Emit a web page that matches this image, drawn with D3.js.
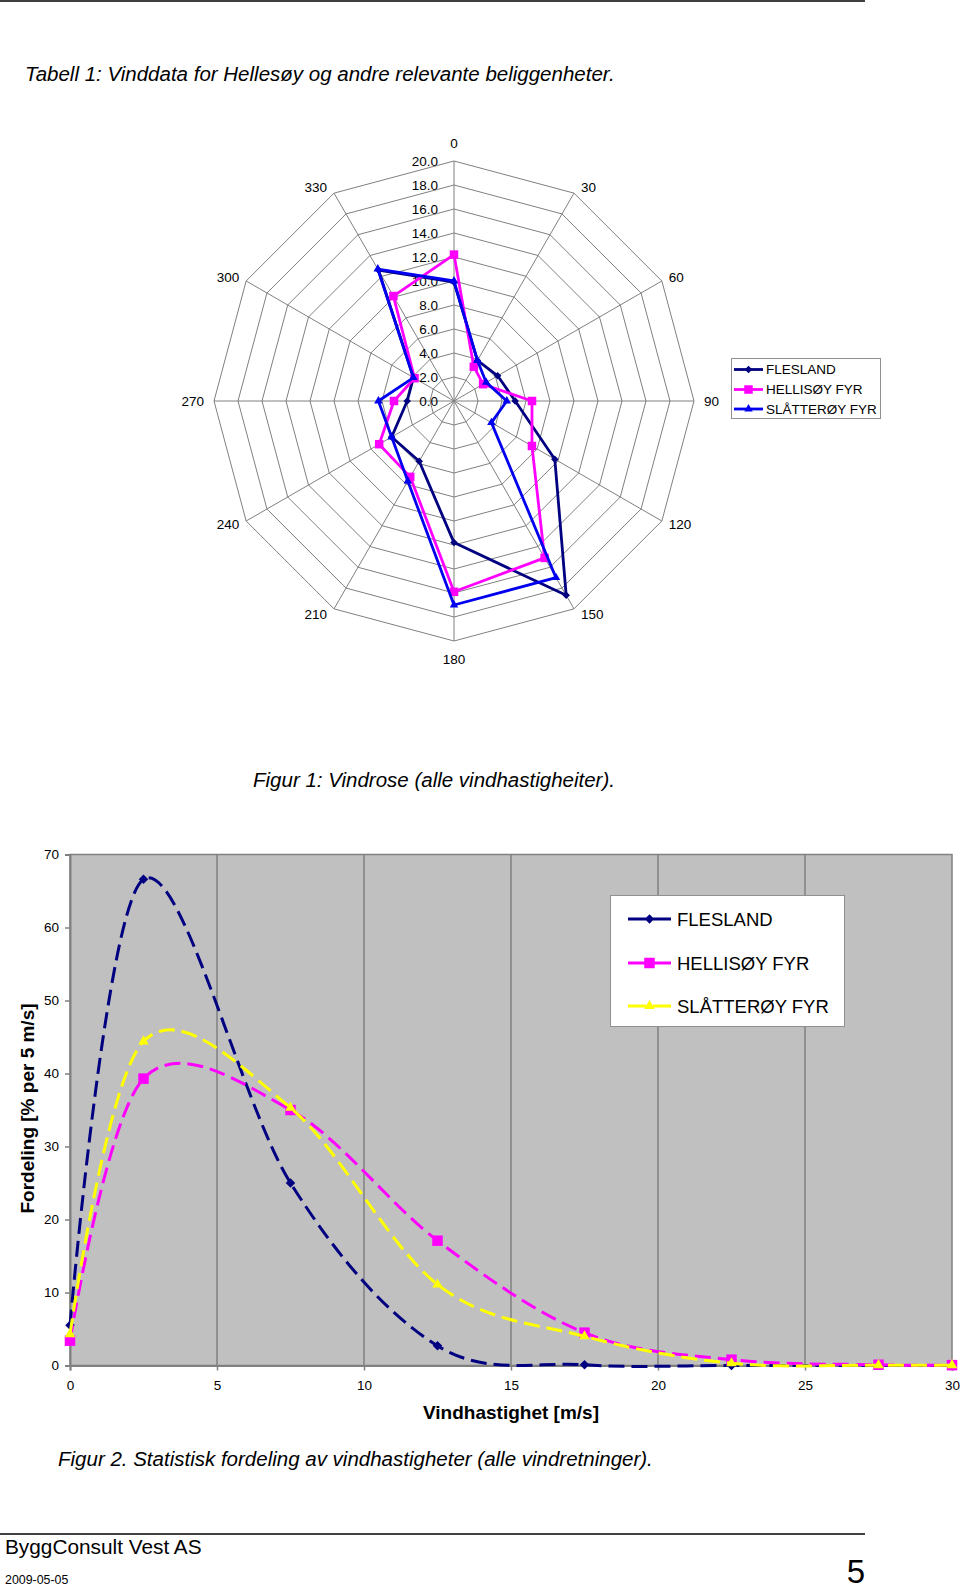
<!DOCTYPE html>
<html><head><meta charset="utf-8">
<script src="https://cdn.jsdelivr.net/npm/d3@7"></script>
<style>
body{margin:0;background:#fff}
svg{display:block}
text{font-family:'Liberation Sans',Arial,Helvetica,sans-serif;fill:#000}
</style>
</head><body>
<svg id="page" width="960" height="1589"></svg>
<script>
// ---------- data ----------
const seriesNames = ["FLESLAND", "HELLISØY FYR", "SLÅTTERØY FYR"];
const directions = [0, 30, 60, 90, 120, 150, 180, 210, 240, 270, 300, 330];
const roseTicks = [0, 2, 4, 6, 8, 10, 12, 14, 16, 18, 20];
const fleslandRose  = [9.9, 3.9, 4.2, 5.1, 9.7, 18.7, 11.8, 5.8, 6.0, 3.9, 3.9, 12.6];
const hellisoyRose  = [12.2, 3.3, 2.8, 6.5, 7.5, 15.1, 15.9, 7.3, 7.2, 5.0, 3.8, 10.1];
const slatteroyRose = [10.0, 3.9, 3.1, 4.4, 3.6, 17.0, 17.0, 7.7, 6.0, 6.3, 3.9, 12.7];

const speeds = [0, 2.5, 7.5, 12.5, 17.5, 22.5, 27.5, 30];
const fleslandDist  = [5.5, 66.6, 25.0, 2.7, 0.1, 0.0, 0.0, 0.0];
const hellisoyDist  = [3.4, 39.3, 35.0, 17.1, 4.5, 0.8, 0.1, 0.05];
const slatteroyDist = [4.3, 44.4, 35.3, 11.1, 4.0, 0.3, 0.05, 0.05];
const speedTicks = [0, 5, 10, 15, 20, 25, 30];
const distTicks = [0, 10, 20, 30, 40, 50, 60, 70];

const roseColors = ["#000080", "#FF00FF", "#0000EE"];
const distColors = ["#000080", "#FF00FF", "#FFFF00"];
const markerTypes = ["diamond", "square", "triangle"];

// ---------- helpers ----------
const svg = d3.select("#page");
function marker(sel, type, w, color, x, y) {
  let p, rot = 0;
  if (type === "diamond") { p = d3.symbol(d3.symbolSquare, (w / Math.SQRT2) ** 2)(); rot = 45; }
  else if (type === "square") { p = d3.symbol(d3.symbolSquare, w * w)(); }
  else { p = d3.symbol(d3.symbolTriangle, Math.sqrt(3) / 4 * w * w)(); }
  sel.append("path").attr("d", p).attr("fill", color).attr("stroke", "none")
    .attr("transform", `translate(${x},${y}) rotate(${rot})`);
}

// ---------- page text ----------
svg.append("line").attr("x1", 0).attr("x2", 865).attr("y1", 1).attr("y2", 1)
  .attr("stroke", "#000").attr("stroke-width", 1.5);
svg.append("text").attr("x", 25).attr("y", 81).style("font-size", "20.5px").style("font-style", "italic")
  .text("Tabell 1: Vinddata for Hellesøy og andre relevante beliggenheter.");

// ---------- wind rose ----------
const cx = 454, cy = 401;
const r = d3.scaleLinear().domain([0, 20]).range([0, 240]);
const ang = d3.scaleLinear().domain([0, 360]).range([0, 2 * Math.PI]);
const rose = svg.append("g").attr("transform", `translate(${cx},${cy})`);

const ring = d3.lineRadial().angle(d => ang(d)).curve(d3.curveLinearClosed);
roseTicks.filter(t => t > 0).forEach(t => {
  rose.append("path").attr("d", ring.radius(r(t))(directions))
    .attr("fill", "none").attr("stroke", "#808080").attr("stroke-width", 1);
});
directions.forEach(d => {
  rose.append("line").attr("x1", 0).attr("y1", 0)
    .attr("x2", r(20) * Math.sin(ang(d))).attr("y2", -r(20) * Math.cos(ang(d)))
    .attr("stroke", "#808080").attr("stroke-width", 1);
});
roseTicks.forEach(t => {
  rose.append("text").attr("x", -16).attr("y", -r(t)).attr("text-anchor", "end")
    .attr("dominant-baseline", "central").style("font-size", "13.5px").text(t.toFixed(1));
});
directions.forEach(d => {
  const s = Math.sin(ang(d)), c = Math.cos(ang(d));
  const vx = r(20) * s, vy = -r(20) * c;
  let x = vx, y = vy, anchor = "middle";
  if (Math.abs(s) < 0.01) { y = vy - c * 18; }
  else {
    const off = Math.abs(s) > 0.99 ? 10 : 7;
    x = vx + (s > 0 ? off : -off); y = vy - c * 7; anchor = s > 0 ? "start" : "end";
  }
  rose.append("text").attr("x", x).attr("y", y).attr("text-anchor", anchor)
    .attr("dominant-baseline", "central").style("font-size", "13.5px").text(d);
});
const roseSeries = [fleslandRose, hellisoyRose, slatteroyRose];
roseSeries.forEach((vals, i) => {
  const pts = directions.map((d, j) => [d, vals[j]]);
  rose.append("path")
    .attr("d", d3.lineRadial().angle(p => ang(p[0])).radius(p => r(p[1])).curve(d3.curveLinearClosed)(pts))
    .attr("fill", "none").attr("stroke", roseColors[i]).attr("stroke-width", 2.8).attr("stroke-linejoin", "round");
  pts.forEach(p => marker(rose, markerTypes[i], i === 0 ? 7.5 : 8.5, roseColors[i],
    r(p[1]) * Math.sin(ang(p[0])), -r(p[1]) * Math.cos(ang(p[0]))));
});
// rose legend
const rl = svg.append("g");
rl.append("rect").attr("x", 731.5).attr("y", 358.5).attr("width", 149).attr("height", 60)
  .attr("fill", "#fff").attr("stroke", "#909090").attr("stroke-width", 1);
[369.5, 389.5, 409].forEach((y, i) => {
  rl.append("line").attr("x1", 734).attr("x2", 763).attr("y1", y).attr("y2", y)
    .attr("stroke", roseColors[i]).attr("stroke-width", 2.8);
  marker(rl, markerTypes[i], i === 0 ? 7.5 : 8.5, roseColors[i], 748.5, y);
  rl.append("text").attr("x", 766).attr("y", y).attr("dominant-baseline", "central")
    .style("font-size", "13.5px").text(seriesNames[i]);
});
svg.append("text").attr("x", 253).attr("y", 787).style("font-size", "20.5px").style("font-style", "italic")
  .text("Figur 1: Vindrose (alle vindhastigheiter).");

// ---------- distribution chart ----------
const x = d3.scaleLinear().domain([0, 30]).range([70, 952]);
const y = d3.scaleLinear().domain([0, 70]).range([1365.5, 854.5]);
const ch = svg.append("g");
ch.append("rect").attr("x", x(0)).attr("y", y(70)).attr("width", x(30) - x(0)).attr("height", y(0) - y(70))
  .attr("fill", "#c0c0c0").attr("stroke", "#808080").attr("stroke-width", 1.5);
speedTicks.filter(t => t > 0 && t < 30).forEach(t => {
  ch.append("line").attr("x1", x(t)).attr("x2", x(t)).attr("y1", y(0)).attr("y2", y(70))
    .attr("stroke", "#808080").attr("stroke-width", 1.5);
});
const yAxis = ch.append("g").attr("transform", `translate(${x(0)},0)`)
  .call(d3.axisLeft(y).tickValues(distTicks).tickSize(5).tickPadding(6).tickFormat(d3.format("d")));
const xAxis = ch.append("g").attr("transform", `translate(0,${y(0)})`)
  .call(d3.axisBottom(x).tickValues(speedTicks).tickSize(5).tickPadding(10).tickFormat(d3.format("d")));
[yAxis, xAxis].forEach(a => {
  a.select(".domain").attr("stroke", "#808080").attr("stroke-width", 2);
  a.selectAll(".tick line").attr("stroke", "#808080").attr("stroke-width", 1.5);
  a.selectAll(".tick text").style("font-size", "13.5px").attr("fill", "#000")
    .style("font-family", "'Liberation Sans',Arial,sans-serif");
});
const distSeries = [fleslandDist, hellisoyDist, slatteroyDist];
const lineGen = d3.line().x(d => x(d[0])).y(d => y(d[1])).curve(d3.curveCardinal.tension(0));
distSeries.forEach((vals, i) => {
  const pts = speeds.map((s, j) => [s, vals[j]]);
  ch.append("path").attr("d", lineGen(pts)).attr("fill", "none").attr("stroke", distColors[i])
    .attr("stroke-width", 3).attr("stroke-dasharray", "16,7");
  pts.forEach(p => marker(ch, markerTypes[i], i === 0 ? 9.5 : 10.5, distColors[i], x(p[0]), y(p[1])));
});
// legend
const dl = svg.append("g");
dl.append("rect").attr("x", 610.5).attr("y", 895.5).attr("width", 234).attr("height", 131)
  .attr("fill", "#fff").attr("stroke", "#909090").attr("stroke-width", 1);
[919, 963, 1006].forEach((yy, i) => {
  dl.append("line").attr("x1", 628).attr("x2", 671).attr("y1", yy).attr("y2", yy)
    .attr("stroke", distColors[i]).attr("stroke-width", 3).attr("stroke-dasharray", "18,7");
  marker(dl, markerTypes[i], i === 0 ? 9.5 : 10.5, distColors[i], 649.5, yy);
  dl.append("text").attr("x", 677).attr("y", yy).attr("dominant-baseline", "central")
    .style("font-size", "18.5px").text(seriesNames[i]);
});
svg.append("text").attr("x", 511).attr("y", 1419).attr("text-anchor", "middle")
  .style("font-size", "19px").style("font-weight", "bold").text("Vindhastighet [m/s]");
svg.append("text").attr("transform", "translate(27,1108.5) rotate(-90)").attr("text-anchor", "middle")
  .attr("dominant-baseline", "central").style("font-size", "19px").style("font-weight", "bold")
  .text("Fordeling [% per 5 m/s]");
svg.append("text").attr("x", 58).attr("y", 1466).style("font-size", "20.5px").style("font-style", "italic")
  .text("Figur 2. Statistisk fordeling av vindhastigheter (alle vindretninger).");

// ---------- footer ----------
svg.append("line").attr("x1", 0).attr("x2", 865).attr("y1", 1534).attr("y2", 1534)
  .attr("stroke", "#000").attr("stroke-width", 1.5);
svg.append("text").attr("x", 5).attr("y", 1554).style("font-size", "20.8px").text("ByggConsult Vest AS");
svg.append("text").attr("x", 5).attr("y", 1583.5).style("font-size", "12.4px").text("2009-05-05");
svg.append("text").attr("x", 865).attr("y", 1583).attr("text-anchor", "end").style("font-size", "33px").text("5");
</script>
</body></html>
